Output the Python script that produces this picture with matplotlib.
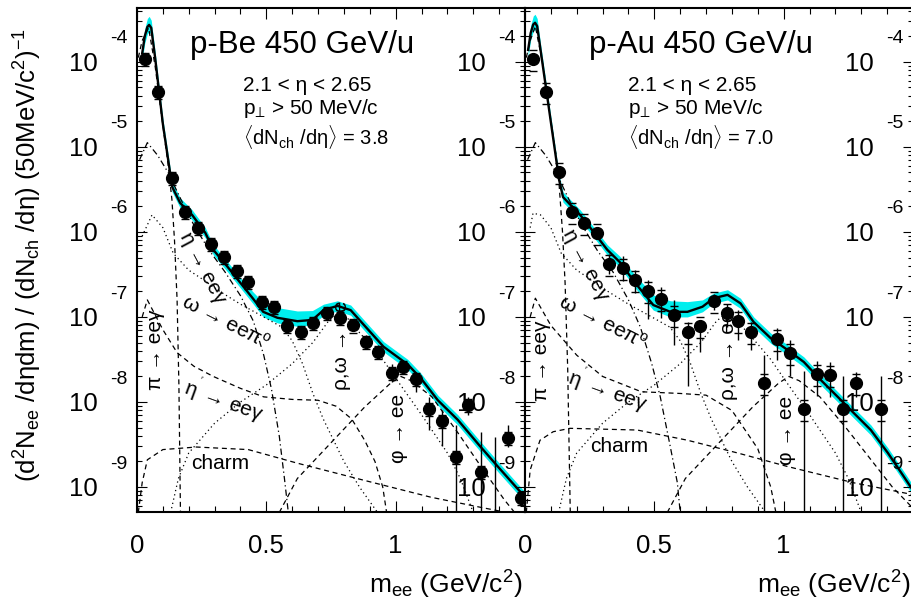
import numpy as np
import matplotlib
matplotlib.use("Agg")
from matplotlib import pyplot as plt
from matplotlib.ticker import FixedLocator, LogLocator, MultipleLocator, NullFormatter

plt.rcParams["font.family"] = ["Liberation Sans", "DejaVu Sans"]
plt.rcParams["mathtext.fontset"] = "custom"
plt.rcParams["mathtext.rm"] = "Liberation Sans"
plt.rcParams["mathtext.it"] = "Liberation Sans"
plt.rcParams["mathtext.sf"] = "Liberation Sans"
plt.rcParams["mathtext.bf"] = "Liberation Sans:bold"

Y_MIN, Y_MAX = 5.08e-10, 4.3e-4
X_MIN, X_MAX = 0.0, 1.5
DECADES = [-9, -8, -7, -6, -5, -4]
X_LABELLED = [0.0, 0.5, 1.0]

# ---- p-Be data points ----
BE_MASS = [0.03, 0.08, 0.135, 0.185, 0.235, 0.285, 0.335, 0.385, 0.43, 0.485,
           0.53, 0.58, 0.635, 0.68, 0.735, 0.785, 0.835, 0.885, 0.93, 0.985,
           1.03, 1.08, 1.13, 1.18, 1.235, 1.28, 1.33, 1.385, 1.435, 1.485]
BE_Y = [1.08e-4, 4.44e-5, 4.3e-6, 1.72e-6, 1.11e-6, 7.2e-7, 5.1e-7, 3.5e-7, 2.6e-7, 1.5e-7,
        1.31e-7, 7.8e-8, 6.7e-8, 8.5e-8, 1.11e-7, 9.7e-8, 8.0e-8, 5.1e-8, 3.9e-8, 2.2e-8,
        2.6e-8, 1.87e-8, 8.3e-9, 6.0e-9, 2.25e-9, 9.2e-9, 1.5e-9, 4.0e-10, 3.8e-9, 7.4e-10]
BE_STAT_UP = [0.08, 0.08, 0.08, 0.08, 0.08, 0.08, 0.08, 0.08, 0.08, 0.08,
              0.15, 0.15, 0.15, 0.15, 0.15, 0.15, 0.15, 0.2, 0.2, 0.28,
              0.15, 0.2, 0.38, 0.35, 1.38, 0.24, 1.96, 8.75, 0.42, 0.1]
BE_STAT_DN = [0.08, 0.08, 0.08, 0.08, 0.08, 0.08, 0.08, 0.08, 0.08, 0.08,
              0.13, 0.13, 0.13, 0.13, 0.13, 0.13, 0.13, 0.17, 0.17, 0.22,
              0.15, 0.3, 0.43, 0.5, 0.999, 0.24, 0.999, 0.999, 0.22, 0.1]
BE_SYST = 0.18

# ---- p-Au data points ----
AU_MASS = [0.03, 0.08, 0.13, 0.18, 0.23, 0.28, 0.325, 0.38, 0.425, 0.475,
           0.525, 0.575, 0.63, 0.675, 0.73, 0.78, 0.825, 0.875, 0.925, 0.975,
           1.025, 1.08, 1.13, 1.18, 1.23, 1.28, 1.375]
AU_Y = [1.08e-4, 4.44e-5, 5.1e-6, 1.72e-6, 1.28e-6, 9.7e-7, 4.2e-7, 3.77e-7, 2.72e-7, 2.02e-7,
        1.63e-7, 1.06e-7, 6.7e-8, 7.8e-8, 1.54e-7, 1.11e-7, 9.0e-8, 6.7e-8, 1.67e-8, 5.5e-8,
        3.77e-8, 8.3e-9, 2.13e-8, 2.08e-8, 8.3e-9, 1.67e-8, 8.3e-9]
AU_STAT_UP = [0.1, 0.1, 0.1, 0.1, 0.1, 0.1, 0.31, 0.38, 0.31, 0.35,
              0.38, 0.5, 0.31, 0.12, 0.21, 0.28, 0.35, 0.31, 1.13, 0.35,
              0.42, 1.8, 0.42, 0.42, 1.44, 0.35, 1.44]
AU_STAT_DN = [0.1, 0.1, 0.1, 0.1, 0.1, 0.1, 0.24, 0.3, 0.3, 0.53,
              0.4, 0.56, 0.77, 0.51, 0.22, 0.32, 0.4, 0.39, 0.999, 0.43,
              0.46, 0.999, 0.45, 0.45, 0.999, 0.32, 0.999]
AU_SYST = 0.28

# ---- total cocktail (log10) and its systematic band (decades) ----
BE_TOT_X = [0.02, 0.03, 0.04, 0.047, 0.055, 0.07, 0.1, 0.136, 0.167, 0.213, 0.264, 0.295,
            0.35, 0.4, 0.45, 0.488, 0.543, 0.62, 0.678, 0.721, 0.775, 0.826, 0.876, 0.953,
            1.047, 1.097, 1.163, 1.24, 1.329, 1.395, 1.477, 1.5]
BE_TOT_LOG = [-3.9, -3.7, -3.59, -3.565, -3.6, -3.95, -4.73, -5.47, -5.66, -5.8, -6.01, -6.21,
              -6.41, -6.6, -6.79, -6.94, -7.01, -7.05, -7.035, -6.92, -6.87, -6.92, -7.09, -7.35,
              -7.56, -7.72, -7.98, -8.21, -8.53, -8.76, -9.04, -9.12]
BE_BAND_UP = [0.08, 0.09, 0.1, 0.1, 0.09, 0.07, 0.06, 0.06, 0.06, 0.06, 0.06, 0.06,
              0.06, 0.06, 0.08, 0.11, 0.12, 0.12, 0.11, 0.07, 0.06, 0.06, 0.06, 0.06,
              0.06, 0.06, 0.06, 0.06, 0.06, 0.06, 0.06, 0.06]
BE_BAND_DN = [0.08, 0.08, 0.08, 0.08, 0.08, 0.07, 0.06, 0.06, 0.06, 0.06, 0.06, 0.06,
              0.06, 0.06, 0.06, 0.06, 0.06, 0.06, 0.06, 0.06, 0.06, 0.06, 0.06, 0.06,
              0.06, 0.06, 0.06, 0.06, 0.06, 0.06, 0.06, 0.06]

AU_TOT_X = [0.012, 0.022, 0.032, 0.039, 0.047, 0.062, 0.132, 0.147, 0.213, 0.252, 0.318,
            0.368, 0.426, 0.496, 0.562, 0.628, 0.686, 0.729, 0.783, 0.833, 0.884, 0.95,
            1.016, 1.078, 1.143, 1.209, 1.271, 1.337, 1.403, 1.465, 1.5]
AU_TOT_LOG = [-3.86, -3.66, -3.56, -3.54, -3.58, -3.9, -5.39, -5.59, -5.8, -5.95, -6.21,
              -6.36, -6.6, -6.86, -6.94, -6.94, -6.88, -6.78, -6.74, -6.84, -7.06, -7.25,
              -7.39, -7.53, -7.74, -7.94, -8.13, -8.33, -8.6, -8.88, -9.04]
AU_BAND_UP = [0.08, 0.09, 0.1, 0.1, 0.09, 0.07, 0.06, 0.06, 0.06, 0.06, 0.06,
              0.07, 0.09, 0.12, 0.13, 0.12, 0.08, 0.06, 0.06, 0.06, 0.06, 0.06,
              0.06, 0.06, 0.06, 0.06, 0.06, 0.06, 0.06, 0.06, 0.06]
AU_BAND_DN = [0.08, 0.08, 0.08, 0.08, 0.08, 0.07, 0.06, 0.06, 0.06, 0.06, 0.06,
              0.06, 0.06, 0.06, 0.06, 0.06, 0.06, 0.06, 0.06, 0.06, 0.06, 0.06,
              0.06, 0.06, 0.06, 0.06, 0.06, 0.06, 0.06, 0.06, 0.06]

# ---- cocktail components (log10) ----
BE_PI0_X = [0.005, 0.02, 0.045, 0.07, 0.1, 0.12, 0.135, 0.145, 0.155, 0.162, 0.168]
BE_PI0_LOG = [-3.95, -3.75, -3.6, -4.05, -4.75, -5.2, -5.62, -6.1, -6.8, -7.8, -9.3]
BE_ETA_X = [0.01, 0.04, 0.08, 0.12, 0.17, 0.22, 0.28, 0.34, 0.4, 0.45, 0.49, 0.52, 0.55, 0.57, 0.585]
BE_ETA_LOG = [-5.15, -4.95, -5.1, -5.3, -5.62, -5.92, -6.22, -6.47, -6.75, -7.05, -7.45, -7.85, -8.4, -8.9, -9.3]
BE_OMD_X = [0.02, 0.058, 0.1, 0.14, 0.2, 0.25, 0.31, 0.4, 0.49, 0.56, 0.6, 0.64, 0.68, 0.72, 0.76, 0.8, 0.86, 0.93]
BE_OMD_LOG = [-6.05, -5.8, -5.95, -6.25, -6.45, -6.55, -6.68, -6.85, -7.0, -7.12, -7.28, -7.55, -7.9, -8.2, -8.45, -8.7, -9.0, -9.3]
BE_ETAP_X = [0.02, 0.04, 0.1, 0.155, 0.22, 0.295, 0.4, 0.49, 0.6, 0.7, 0.77, 0.83, 0.88, 0.92, 0.95, 0.965]
BE_ETAP_LOG = [-7.0, -6.8, -7.15, -7.42, -7.58, -7.7, -7.84, -7.94, -7.97, -7.98, -8.05, -8.2, -8.45, -8.7, -9.0, -9.3]
BE_RHO_X = [0.13, 0.16, 0.2, 0.3, 0.4, 0.5, 0.6, 0.68, 0.74, 0.78, 0.81, 0.85, 0.9, 0.95, 1.0, 1.1, 1.2, 1.25, 1.3]
BE_RHO_LOG = [-9.3, -8.9, -8.6, -8.25, -8.0, -7.8, -7.55, -7.3, -7.05, -6.95, -7.0, -7.15, -7.32, -7.5, -7.72, -8.15, -8.6, -8.9, -9.3]
BE_PHI_X = [0.55, 0.62, 0.75, 0.88, 0.98, 1.02, 1.06, 1.14, 1.24, 1.33, 1.42, 1.46]
BE_PHI_LOG = [-9.3, -8.9, -8.48, -8.06, -7.78, -7.7, -7.75, -7.94, -8.36, -8.76, -9.15, -9.3]
BE_CHARM_X = [0.005, 0.02, 0.04, 0.1, 0.23, 0.43, 0.62, 0.876, 1.136, 1.33, 1.43]
BE_CHARM_LOG = [-9.3, -8.95, -8.68, -8.56, -8.53, -8.56, -8.72, -8.92, -9.12, -9.24, -9.3]

AU_PI0_X = [0.005, 0.02, 0.04, 0.07, 0.1, 0.12, 0.132, 0.145, 0.155, 0.165, 0.175]
AU_PI0_LOG = [-3.95, -3.75, -3.58, -4.05, -4.7, -5.1, -5.45, -6.0, -6.6, -7.6, -9.3]
AU_ETA_X = [0.01, 0.04, 0.08, 0.12, 0.17, 0.22, 0.28, 0.34, 0.4, 0.446, 0.49, 0.523, 0.56, 0.589, 0.6]
AU_ETA_LOG = [-5.15, -4.95, -5.1, -5.3, -5.62, -5.92, -6.22, -6.47, -6.8, -7.12, -7.55, -7.94, -8.5, -8.95, -9.3]
AU_OMD_X = [0.02, 0.031, 0.06, 0.1, 0.14, 0.2, 0.25, 0.31, 0.4, 0.49, 0.56, 0.6, 0.64, 0.68, 0.72, 0.76, 0.8, 0.86, 0.93]
AU_OMD_LOG = [-5.95, -5.78, -5.8, -5.95, -6.25, -6.45, -6.55, -6.68, -6.85, -7.0, -7.12, -7.28, -7.55, -7.9, -8.2, -8.45, -8.7, -9.0, -9.3]
AU_ETAP_X = [0.02, 0.04, 0.1, 0.2, 0.3, 0.45, 0.6, 0.7, 0.8, 0.9, 0.95, 0.97]
AU_ETAP_LOG = [-7.0, -6.78, -7.1, -7.45, -7.7, -7.88, -7.9, -7.92, -8.1, -8.55, -9.0, -9.3]
AU_RHO_X = [0.13, 0.16, 0.2, 0.3, 0.4, 0.5, 0.6, 0.68, 0.74, 0.78, 0.81, 0.85, 0.9, 0.95, 1.0, 1.1, 1.2, 1.25, 1.3]
AU_RHO_LOG = [-9.3, -8.9, -8.6, -8.25, -8.0, -7.8, -7.55, -7.3, -7.05, -6.95, -7.0, -7.15, -7.32, -7.5, -7.72, -8.15, -8.6, -8.9, -9.3]
AU_PHI_X = [0.55, 0.62, 0.75, 0.88, 0.98, 1.02, 1.06, 1.14, 1.24, 1.33, 1.42, 1.5]
AU_PHI_LOG = [-9.3, -8.9, -8.48, -8.06, -7.78, -7.7, -7.75, -7.94, -8.3, -8.65, -9.0, -9.25]
AU_CHARM_X = [0.005, 0.02, 0.058, 0.109, 0.174, 0.434, 0.628, 0.822, 1.016, 1.27, 1.5]
AU_CHARM_LOG = [-9.3, -8.8, -8.45, -8.35, -8.31, -8.33, -8.45, -8.6, -8.76, -8.95, -9.09]

DASHED = (0, (4, 3))
DOTTED = (0, (1, 2.5))
DASHDOT = (0, (5, 2.5, 1, 2.5))
CYAN = "#00eeee"


def setup_axes(ax, xlabels=True):
    ax.set_xlim(X_MIN, X_MAX)
    ax.set_yscale("log")
    ax.set_ylim(Y_MIN, Y_MAX)
    ax.yaxis.set_major_locator(FixedLocator([10.0 ** d for d in DECADES]))
    ax.yaxis.set_minor_locator(LogLocator(base=10, subs=np.arange(2, 10)))
    ax.yaxis.set_minor_formatter(NullFormatter())
    ax.set_yticklabels(["10"] * len(DECADES))
    ax.xaxis.set_major_locator(FixedLocator(X_LABELLED))
    ax.xaxis.set_minor_locator(MultipleLocator(0.1))
    if xlabels:
        ax.set_xticklabels(["0", "0.5", "1"])
    else:
        ax.set_xticklabels([])
    ax.tick_params(which="both", direction="in", top=True, right=True, width=0.8)
    ax.tick_params(axis="y", which="major", length=7.5, labelsize=18.5, pad=28)
    ax.tick_params(axis="y", which="minor", length=3.8)
    ax.tick_params(axis="x", which="major", length=8, labelsize=18.5, pad=16)
    ax.tick_params(axis="x", which="minor", length=4.5)
    for sp in ax.spines.values():
        sp.set_linewidth(1.5)
    for d in DECADES:
        ax.annotate(str(d), xy=(0, 10.0 ** d), xycoords=ax.get_yaxis_transform(),
                    xytext=(-19.5, 16.5), textcoords="offset points",
                    ha="left", va="center", fontsize=14, annotation_clip=False)


def draw_panel(ax, mass, y, st_up, st_dn, syst, tot_x, tot_log, band_up, band_dn, comps):
    tot_x = np.array(tot_x)
    tot_log = np.array(tot_log)
    ax.fill_between(tot_x, 10 ** (tot_log - np.array(band_dn)), 10 ** (tot_log + np.array(band_up)),
                    color=CYAN, lw=0, zorder=1)
    for cx, clog, ls in comps:
        ax.plot(cx, 10 ** np.array(clog), color="black", lw=0.9, ls=ls, zorder=2)
    ax.plot(tot_x, 10 ** tot_log, color="black", lw=1.7, zorder=3)

    y = np.array(y)
    lo = y * np.array(st_dn)
    hi = y * np.array(st_up)
    ax.errorbar(mass, y, yerr=[lo, hi], fmt="none", ecolor="black", elinewidth=1.0, capsize=0, zorder=4)
    ax.plot(mass, y * (1 + syst), ls="none", marker="_", ms=6, mew=1.0, color="black", zorder=4)
    ax.plot(mass, y * (1 - syst), ls="none", marker="_", ms=6, mew=1.0, color="black", zorder=4)
    ax.plot(mass, y, ls="none", marker="o", ms=8.5, color="black", zorder=5)


def add_labels(ax, pos):
    kw = dict(fontsize=15, ha="center", va="center", rotation_mode="anchor")
    ax.text(*pos["pi"], "π → eeγ", rotation=90, **kw)
    ax.text(*pos["eta"], "η → eeγ", rotation=-62, **kw)
    ax.text(*pos["omega"], "ω → eeπ$^{o}$", rotation=-27, **kw)
    ax.text(*pos["etap"], "η$^{'}$ → eeγ", rotation=-20, **kw)
    ax.text(*pos["charm"], "charm", rotation=0, **kw)
    ax.text(*pos["rho"], "ρ,ω → ee", rotation=90, **kw)
    ax.text(*pos["phi"], "φ → ee", rotation=90, **kw)


fig = plt.figure(figsize=(9.12, 6.02), dpi=100)
bottom, height, width = 90 / 602, 504 / 602, 388 / 912
ax1 = fig.add_axes([137 / 912, bottom, width, height])
ax2 = fig.add_axes([525 / 912, bottom, width, height])
ax3 = fig.add_axes([913 / 912, bottom, width, height])

setup_axes(ax1)
setup_axes(ax2)
setup_axes(ax3, xlabels=False)

draw_panel(ax1, BE_MASS, BE_Y, BE_STAT_UP, BE_STAT_DN, BE_SYST,
           BE_TOT_X, BE_TOT_LOG, BE_BAND_UP, BE_BAND_DN,
           [(BE_PI0_X, BE_PI0_LOG, DASHED), (BE_ETA_X, BE_ETA_LOG, DASHDOT),
            (BE_OMD_X, BE_OMD_LOG, DOTTED), (BE_ETAP_X, BE_ETAP_LOG, DASHED),
            (BE_RHO_X, BE_RHO_LOG, DOTTED), (BE_PHI_X, BE_PHI_LOG, DASHED),
            (BE_CHARM_X, BE_CHARM_LOG, DASHED)])
draw_panel(ax2, AU_MASS, AU_Y, AU_STAT_UP, AU_STAT_DN, AU_SYST,
           AU_TOT_X, AU_TOT_LOG, AU_BAND_UP, AU_BAND_DN,
           [(AU_PI0_X, AU_PI0_LOG, DASHED), (AU_ETA_X, AU_ETA_LOG, DASHDOT),
            (AU_OMD_X, AU_OMD_LOG, DOTTED), (AU_ETAP_X, AU_ETAP_LOG, DASHED),
            (AU_RHO_X, AU_RHO_LOG, DOTTED), (AU_PHI_X, AU_PHI_LOG, DASHED),
            (AU_CHARM_X, AU_CHARM_LOG, DASHED)])

add_labels(ax1, {"pi": (0.07, 10 ** -7.39), "eta": (0.252, 10 ** -6.42), "omega": (0.341, 10 ** -7.06),
                 "etap": (0.337, 10 ** -7.98), "charm": (0.322, 10 ** -8.72),
                 "rho": (0.79, 10 ** -7.33), "phi": (1.01, 10 ** -8.31)})
add_labels(ax2, {"pi": (0.062, 10 ** -7.51), "eta": (0.233, 10 ** -6.39), "omega": (0.3, 10 ** -7.07),
                 "etap": (0.322, 10 ** -7.86), "charm": (0.364, 10 ** -8.52),
                 "rho": (0.787, 10 ** -7.45), "phi": (1.012, 10 ** -8.33)})

for ax, title, mult, tx, ix in [(ax1, "p-Be 450 GeV/u", "3.8", 0.425, 0.273),
                                (ax2, "p-Au 450 GeV/u", "7.0", 0.454, 0.265)]:
    ax.text(tx, 0.927, title, transform=ax.transAxes, fontsize=22.5, ha="center", va="center")
    ax.text(ix, 0.847, "2.1 < η < 2.65", transform=ax.transAxes, fontsize=15, ha="left", va="center")
    ax.text(ix, 0.801, "p$_{⊥}$ > 50 MeV/c", transform=ax.transAxes, fontsize=15, ha="left", va="center")
    ax.text(ix, 0.744, r"$\langle$dN$_{ch}$ /dη$\rangle$ = " + mult, transform=ax.transAxes,
            fontsize=14.5, ha="left", va="center")
    ax.text(0.992, -0.145, "m$_{ee}$ (GeV/c$^{2}$)", transform=ax.transAxes, fontsize=19,
            ha="right", va="center")

fig.text(28 / 912, 1 - 255 / 602, "(d$^{2}$N$_{ee}$ /dηdm) / (dN$_{ch}$ /dη) (50MeV/c$^{2}$)$^{-1}$",
         rotation=90, ha="center", va="center", fontsize=18.5)

fig.savefig("out.png", dpi=100)
